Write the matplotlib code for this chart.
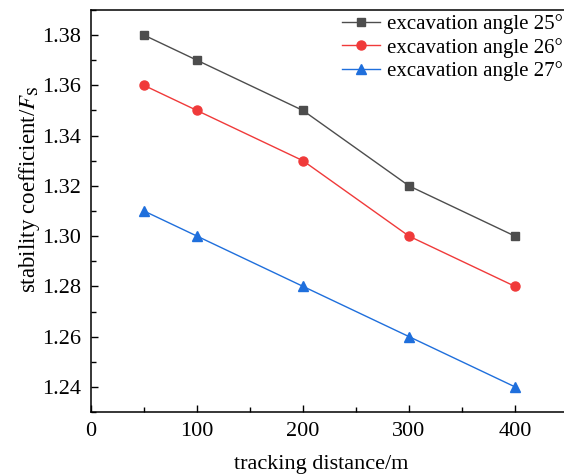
import matplotlib
matplotlib.use("Agg")
import matplotlib.pyplot as plt
from matplotlib.ticker import MultipleLocator

x = [50, 100, 200, 300, 400]
fs_25 = [1.38, 1.37, 1.35, 1.32, 1.30]
fs_26 = [1.36, 1.35, 1.33, 1.30, 1.28]
fs_27 = [1.31, 1.30, 1.28, 1.26, 1.24]
labels = ["excavation angle 25°", "excavation angle 26°", "excavation angle 27°"]

plt.rcParams['font.family'] = ['Liberation Serif', 'DejaVu Serif']
plt.rcParams['mathtext.fontset'] = 'stix'

fig = plt.figure(figsize=(5.64, 4.76), dpi=100)
ax = fig.add_axes([91/564, 64/476, 477/564, 402/476])

ax.plot(x, fs_25, color='#4d4d4d', marker='s', markersize=6, lw=1.0, label=labels[0])
ax.plot(x, fs_26, color='#f03a3a', marker='o', markersize=6.5, lw=1.0, label=labels[1])
ax.plot(x, fs_27, color='#1f6fdc', marker='^', markersize=7, lw=1.0, label=labels[2])

ax.set_xlim(0, 450)
ax.set_ylim(1.23, 1.39)
ax.xaxis.set_major_locator(MultipleLocator(100))
ax.xaxis.set_minor_locator(MultipleLocator(50))
ax.yaxis.set_major_locator(MultipleLocator(0.02))
ax.yaxis.set_minor_locator(MultipleLocator(0.01))
ax.yaxis.set_major_formatter(matplotlib.ticker.FormatStrFormatter('%.2f'))
ax.tick_params(which='major', direction='in', length=5, width=1, labelsize=16, pad=7)
ax.tick_params(which='minor', direction='in', length=3.5, width=1)
for s in ax.spines.values():
    s.set_linewidth(1.1)

ax.set_xlabel('tracking distance/m', fontsize=16, labelpad=10)
ax.set_ylabel(r'stability coefficient/$\mathit{F}_{\mathrm{S}}$', fontsize=16.5, labelpad=0)
ax.xaxis.label.set_x(0.482)
ax.yaxis.label.set_y(0.555)

ax.legend(loc='upper right', bbox_to_anchor=(563/564, 462/476), bbox_transform=fig.transFigure,
          frameon=False, fontsize=15, handlelength=1.8, handletextpad=0.35,
          labelspacing=0.18, borderaxespad=0, borderpad=0)

fig.savefig('out.png', dpi=100)
